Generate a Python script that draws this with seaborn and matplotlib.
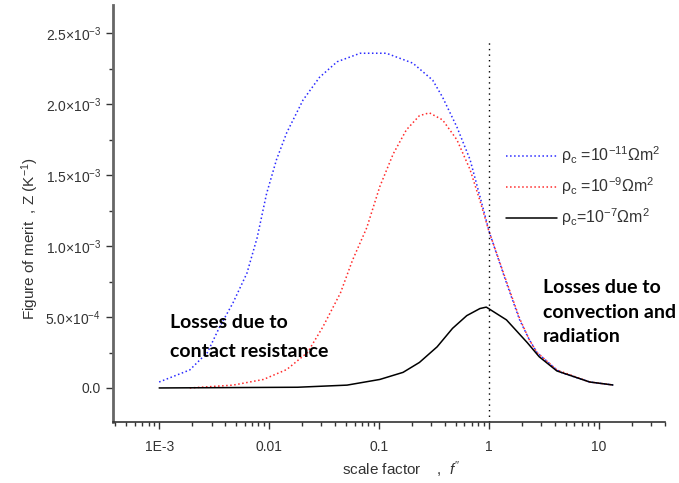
import matplotlib
matplotlib.use("Agg")
import matplotlib.pyplot as plt
import matplotlib.ticker as mticker
import numpy as np
import pandas as pd
import seaborn as sns

# Figure of merit Z versus scale factor f'' for three contact resistivities
f_low = [0.001, 0.0019, 0.00275, 0.00355, 0.0047, 0.0063, 0.0078, 0.0095, 0.0117,
         0.0145, 0.0204, 0.0288, 0.0417, 0.0676, 0.117, 0.204, 0.309, 0.38, 0.513,
         0.676, 0.832, 1.02, 1.45, 1.91, 2.34, 2.75, 4.17, 4.68, 8.3, 13.5]
z_low = [4.2e-5, 1.27e-4, 2.5e-4, 4.3e-4, 6.0e-4, 8.1e-4, 1.06e-3, 1.37e-3, 1.61e-3,
         1.80e-3, 2.03e-3, 2.19e-3, 2.30e-3, 2.36e-3, 2.36e-3, 2.29e-3, 2.17e-3, 2.05e-3,
         1.84e-3, 1.61e-3, 1.35e-3, 1.09e-3, 7.4e-4, 4.8e-4, 3.4e-4, 2.5e-4, 1.27e-4,
         1.06e-4, 4.2e-5, 2.1e-5]

f_mid = [0.0019, 0.0047, 0.0089, 0.0145, 0.0224, 0.0309, 0.0447, 0.0575, 0.0776,
         0.102, 0.135, 0.178, 0.234, 0.288, 0.38, 0.513, 0.676, 0.832, 1.0, 1.45,
         1.91, 2.34, 2.75, 4.17, 8.3, 13.5]
z_mid = [0.0, 2e-5, 6e-5, 1.3e-4, 2.5e-4, 4.3e-4, 6.7e-4, 9.0e-4, 1.13e-3, 1.42e-3,
         1.65e-3, 1.82e-3, 1.92e-3, 1.94e-3, 1.89e-3, 1.75e-3, 1.54e-3, 1.32e-3, 1.11e-3,
         7.5e-4, 4.9e-4, 3.4e-4, 2.5e-4, 1.27e-4, 4.2e-5, 2.1e-5]

f_high = [0.001, 0.0182, 0.0513, 0.102, 0.166, 0.234, 0.339, 0.468, 0.631, 0.832,
          0.95, 1.45, 2.24, 2.88, 4.17, 8.3, 13.5]
z_high = [0.0, 5e-6, 2e-5, 6e-5, 1.1e-4, 1.8e-4, 2.9e-4, 4.2e-4, 5.1e-4, 5.6e-4,
          5.7e-4, 4.8e-4, 3.2e-4, 2.2e-4, 1.2e-4, 4.2e-5, 2.1e-5]

series_labels = ["ρ$_\\mathrm{c}$ =10$^{-11}$Ωm$^2$",
                 "ρ$_\\mathrm{c}$ =10$^{-9}$Ωm$^2$",
                 "ρ$_\\mathrm{c}$=10$^{-7}$Ωm$^2$"]
series_colors = ["#2a2aff", "#ff2a2a", "black"]
series_styles = [":", ":", "-"]

y_ticks = [0.0, 5e-4, 1e-3, 1.5e-3, 2e-3, 2.5e-3]
y_ticklabels = ["0.0", r"5.0$\times$10$^{-4}$", r"1.0$\times$10$^{-3}$",
                r"1.5$\times$10$^{-3}$", r"2.0$\times$10$^{-3}$", r"2.5$\times$10$^{-3}$"]
x_ticks = [0.001, 0.01, 0.1, 1, 10]
x_ticklabels = ["1E-3", "0.01", "0.1", "1", "10"]

left_note = ["Losses due to", "contact resistance"]
right_note = ["Losses due to", "convection and", "radiation"]

sns.set_style("ticks")
plt.rcParams["font.family"] = ["Liberation Sans", "DejaVu Sans"]
plt.rcParams["mathtext.fontset"] = "custom"
plt.rcParams["mathtext.rm"] = "Liberation Sans"
plt.rcParams["mathtext.it"] = "Liberation Sans:italic"
plt.rcParams["mathtext.bf"] = "Liberation Sans:bold"

fig = plt.figure(figsize=(6.79, 4.83), dpi=100)
ax = fig.add_axes([0.1664, 0.1263, 0.8126, 0.8633])

frames = []
for f, z, lab in zip([f_low, f_mid, f_high], [z_low, z_mid, z_high], series_labels):
    frames.append(pd.DataFrame({"f": f, "Z": z, "series": lab}))
data = pd.concat(frames, ignore_index=True)

for lab, col, ls in zip(series_labels, series_colors, series_styles):
    sub = data[data["series"] == lab]
    sns.lineplot(data=sub, x="f", y="Z", ax=ax, color=col, linestyle=ls,
                 linewidth=1.1, label=lab, estimator=None, sort=False)

ax.set_xscale("log")
ax.set_xlim(3.8e-4, 40)
ax.set_ylim(-2.4e-4, 2.7e-3)

# Boundary between the two loss regimes
ax.vlines(1.0, -2.4e-4, 2.44e-3, colors="black", linestyles=(0, (1, 3)), linewidth=1)

ax.set_xticks(x_ticks)
ax.set_xticklabels(x_ticklabels)
ax.xaxis.set_minor_locator(mticker.LogLocator(base=10, subs=np.arange(2, 10)))
ax.xaxis.set_minor_formatter(mticker.NullFormatter())
ax.set_yticks(y_ticks)
ax.set_yticklabels(y_ticklabels)
ax.yaxis.set_minor_locator(mticker.MultipleLocator(2.5e-4))

ax.tick_params(axis="both", which="major", direction="out", length=5, width=1,
               colors="#333333", labelsize=10, labelcolor="#333333")
ax.tick_params(axis="both", which="minor", direction="out", length=3, width=1,
               colors="#333333")
ax.tick_params(axis="x", pad=8)

for side in ["top", "right"]:
    ax.spines[side].set_visible(False)
ax.spines["left"].set_color("#666666")
ax.spines["left"].set_linewidth(2)
ax.spines["bottom"].set_color("#333333")
ax.spines["bottom"].set_linewidth(1.2)

ax.set_xlabel(r"scale factor    ,  $f''$", fontsize=11, color="#333333")
ax.xaxis.set_label_coords(0.522, -0.115)
ax.xaxis.label.set_va("center")
ax.set_ylabel(r"Figure of merit  , Z (K$^{-1}$)", fontsize=11, color="#333333")
ax.yaxis.set_label_coords(-0.150, 0.44)
ax.yaxis.label.set_va("center")

leg = ax.legend(loc="center left", bbox_to_anchor=(0.70, 0.565), frameon=False,
                fontsize=11.5, handlelength=3.2, labelspacing=0.58, handletextpad=0.25,
                borderaxespad=0)
for txt in leg.get_texts():
    txt.set_color("#333333")

note_font = dict(fontsize=14, fontweight="bold", family=["Lato", "DejaVu Sans"],
                 va="center", ha="left", color="black")
for line, z in zip(left_note, [4.65e-4, 2.54e-4]):
    ax.text(0.00126, z, line, **note_font)
for line, z in zip(right_note, [7.11e-4, 5.35e-4, 3.66e-4]):
    ax.text(3.09, z, line, **note_font)

fig.savefig("out.png", dpi=100)
